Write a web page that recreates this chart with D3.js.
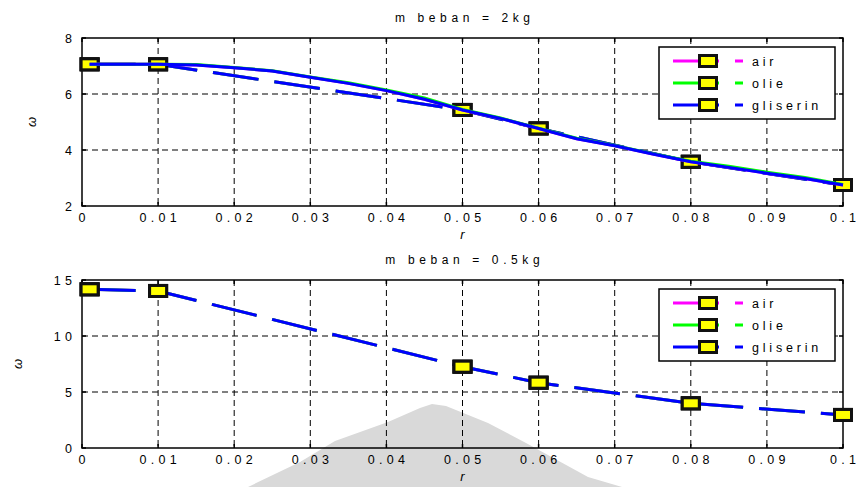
<!DOCTYPE html>
<html lang="en">

<head>
    <meta charset="UTF-8">
    <title>omega vs r</title>
    <script src="https://d3js.org/d3.v7.min.js"></script>
    <style>
        body { margin: 0; background: #fff; }
        text { font-family: "Liberation Sans", Arial, sans-serif; fill: #000; }
    </style>
</head>

<body>
    <div id="chart"></div>
    <script>
        // marker positions (r) shared by every series
        const rPoints = [0.001, 0.01, 0.05, 0.06, 0.08, 0.1];

        // m beban = 2kg : measured omega at the marker points
        const air2 = [7.06, 7.06, 5.43, 4.77, 3.58, 2.75];
        const olie2 = [7.06, 7.06, 5.43, 4.77, 3.58, 2.75];
        const gliserin2 = [7.06, 7.06, 5.43, 4.77, 3.58, 2.75];

        // m beban = 2kg : dense curve drawn through the markers
        const rDense = [0.001, 0.005, 0.01, 0.015, 0.02, 0.025, 0.03, 0.035, 0.04, 0.045, 0.05,
            0.055, 0.06, 0.065, 0.07, 0.075, 0.08, 0.085, 0.09, 0.095, 0.1];
        const airDense = [7.06, 7.06, 7.06, 7.04, 6.94, 6.82, 6.60, 6.38, 6.12, 5.81, 5.43,
            5.13, 4.77, 4.40, 4.15, 3.86, 3.58, 3.38, 3.17, 2.98, 2.75];
        const olieDense = [7.06, 7.06, 7.06, 7.05, 6.95, 6.83, 6.61, 6.40, 6.14, 5.86, 5.45,
            5.14, 4.78, 4.42, 4.16, 3.87, 3.60, 3.42, 3.21, 3.02, 2.77];
        const gliserinDense = [7.06, 7.06, 7.06, 7.04, 6.94, 6.82, 6.60, 6.38, 6.12, 5.81, 5.43,
            5.13, 4.77, 4.40, 4.15, 3.86, 3.58, 3.38, 3.17, 2.98, 2.75];

        // m beban = 0.5kg
        const air05 = [14.17, 14.02, 7.26, 5.83, 3.99, 2.95];
        const olie05 = [14.17, 14.02, 7.26, 5.83, 3.99, 2.95];
        const gliserin05 = [14.17, 14.02, 7.26, 5.83, 3.99, 2.95];

        const seriesNames = ["air", "olie", "gliserin"];
        const seriesColors = ["#ff00ff", "#00ff00", "#0000ff"];

        const xTicks = [0, 0.01, 0.02, 0.03, 0.04, 0.05, 0.06, 0.07, 0.08, 0.09, 0.1];
        const xTickLabels = ["0", "0.01", "0.02", "0.03", "0.04", "0.05", "0.06", "0.07", "0.08", "0.09", "0.1"];
        const yTicks2 = [2, 4, 6, 8];
        const yTicks05 = [0, 5, 10, 15];

        // faint grey watermark behind the lower chart (page decoration, pixels)
        const watermark = [[248, 487], [300, 462], [335, 441], [388, 422], [420, 408], [432, 404],
            [446, 406], [488, 423], [526, 443], [588, 477], [622, 487]];

        const W = 856, H = 487;
        const svg = d3.select("#chart").append("svg")
            .attr("width", W).attr("height", H);

        svg.append("path")
            .attr("d", d3.line()(watermark) + "Z")
            .attr("fill", "#d9d9d9");

        const x = d3.scaleLinear().domain([0, 0.1]).range([82, 843]);
        const LS = 4.3; // letter spacing of the bitmap-looking font

        // spread the glyphs apart with per-glyph dx (no trailing space)
        function spaced(sel, ls) {
            return sel.attr("dx", function () {
                const s = d3.select(this).text();
                return Array.from(s).map((c, i) => i ? ls : 0).join(" ");
            });
        }

        function drawPanel(cfg) {
            const y = d3.scaleLinear().domain(cfg.yDomain).range([cfg.bottom, cfg.top]);
            const g = svg.append("g");

            // grid
            g.selectAll(".vg").data(xTicks.slice(1, -1)).join("line")
                .attr("x1", d => x(d)).attr("x2", d => x(d))
                .attr("y1", cfg.top).attr("y2", cfg.bottom)
                .attr("stroke", "#000").attr("stroke-width", 1).attr("stroke-dasharray", "6,4");
            g.selectAll(".hg").data(cfg.yTicks.slice(1, -1)).join("line")
                .attr("x1", x(0)).attr("x2", x(0.1))
                .attr("y1", d => y(d)).attr("y2", d => y(d))
                .attr("stroke", "#000").attr("stroke-width", 1).attr("stroke-dasharray", "6,4");

            // box
            g.append("rect")
                .attr("x", x(0)).attr("y", cfg.top)
                .attr("width", x(0.1) - x(0)).attr("height", cfg.bottom - cfg.top)
                .attr("fill", "none").attr("stroke", "#000").attr("stroke-width", 1.5);

            // inward ticks on all sides
            xTicks.forEach(t => {
                g.append("line").attr("x1", x(t)).attr("x2", x(t))
                    .attr("y1", cfg.bottom).attr("y2", cfg.bottom - 4).attr("stroke", "#000").attr("stroke-width", 1.5);
                g.append("line").attr("x1", x(t)).attr("x2", x(t))
                    .attr("y1", cfg.top).attr("y2", cfg.top + 4).attr("stroke", "#000").attr("stroke-width", 1.5);
            });
            cfg.yTicks.forEach(t => {
                g.append("line").attr("x1", x(0)).attr("x2", x(0) + 4)
                    .attr("y1", y(t)).attr("y2", y(t)).attr("stroke", "#000").attr("stroke-width", 1.5);
                g.append("line").attr("x1", x(0.1)).attr("x2", x(0.1) - 4)
                    .attr("y1", y(t)).attr("y2", y(t)).attr("stroke", "#000").attr("stroke-width", 1.5);
            });

            // tick labels
            spaced(g.selectAll(".xl").data(xTicks).join("text")
                .attr("x", d => x(d))
                .attr("y", cfg.bottom + 16)
                .attr("text-anchor", "middle")
                .attr("font-size", 12.5)
                .text((d, i) => xTickLabels[i]), LS);
            spaced(g.selectAll(".yl").data(cfg.yTicks).join("text")
                .attr("x", 72)
                .attr("y", d => y(d) + 4.5)
                .attr("text-anchor", "end")
                .attr("font-size", 12.5)
                .text(d => d), LS);

            // axis labels and title
            g.append("text")
                .attr("x", x(0.05)).attr("y", cfg.bottom + 33)
                .attr("text-anchor", "middle").attr("font-size", 13)
                .attr("font-style", "italic").text("r");
            g.append("text")
                .attr("transform", `translate(${cfg.yLabelX},${(cfg.top + cfg.bottom) / 2}) rotate(-90)`)
                .attr("text-anchor", "middle").attr("font-size", 13)
                .attr("font-style", "italic").text("\u03c9");
            spaced(g.append("text")
                .attr("x", (x(0) + x(0.1)) / 2).attr("y", cfg.top - 16)
                .attr("text-anchor", "middle").attr("font-size", 12)
                .text(cfg.title), 4.6);

            const line = d3.line().x(d => x(d[0])).y(d => y(d[1]));

            // dashed series lines
            cfg.series.forEach((vals, i) => {
                g.append("path")
                    .attr("d", line(rPoints.map((r, k) => [r, vals[k]])))
                    .attr("fill", "none").attr("stroke", seriesColors[i])
                    .attr("stroke-width", 3).attr("stroke-dasharray", "46,16");
            });

            // markers
            cfg.series.forEach((vals, i) => {
                g.selectAll(null).data(rPoints.map((r, k) => [r, vals[k]])).join("rect")
                    .attr("x", d => x(d[0]) - 8.5).attr("y", d => y(d[1]) - 5.5)
                    .attr("width", 17).attr("height", 11)
                    .attr("fill", "#ffff00").attr("stroke", "#111").attr("stroke-width", 3);
            });

            // dense curves (only in the 2kg panel)
            if (cfg.dense) {
                cfg.dense.forEach((vals, i) => {
                    g.append("path")
                        .attr("d", line(rDense.map((r, k) => [r, vals[k]])))
                        .attr("fill", "none").attr("stroke", seriesColors[i])
                        .attr("stroke-width", 3);
                });
            }

            // legend
            const lx = 659, ly = cfg.top + 9;
            const lg = g.append("g");
            lg.append("rect").attr("x", lx).attr("y", ly).attr("width", 176).attr("height", 72)
                .attr("fill", "#fff").attr("stroke", "#000").attr("stroke-width", 1.5);
            seriesNames.forEach((name, i) => {
                const yy = ly + 14 + i * 22;
                lg.append("line").attr("x1", 673).attr("x2", 743).attr("y1", yy).attr("y2", yy)
                    .attr("stroke", seriesColors[i]).attr("stroke-width", 3).attr("stroke-dasharray", "46,16");
                lg.append("rect").attr("x", 708 - 8.5).attr("y", yy - 5.5).attr("width", 17).attr("height", 11)
                    .attr("fill", "#ffff00").attr("stroke", "#111").attr("stroke-width", 3);
                spaced(lg.append("text").attr("x", 752).attr("y", yy + 4.5)
                    .attr("font-size", 12.5).text(name), 3.8);
            });
        }

        drawPanel({
            top: 38, bottom: 206, yDomain: [2, 8], yTicks: yTicks2,
            title: "m beban = 2kg", yLabelX: 36,
            series: [air2, olie2, gliserin2],
            dense: [airDense, olieDense, gliserinDense]
        });

        drawPanel({
            top: 280, bottom: 448, yDomain: [0, 15], yTicks: yTicks05,
            title: "m beban = 0.5kg", yLabelX: 22,
            series: [air05, olie05, gliserin05]
        });
    </script>
</body>

</html>
